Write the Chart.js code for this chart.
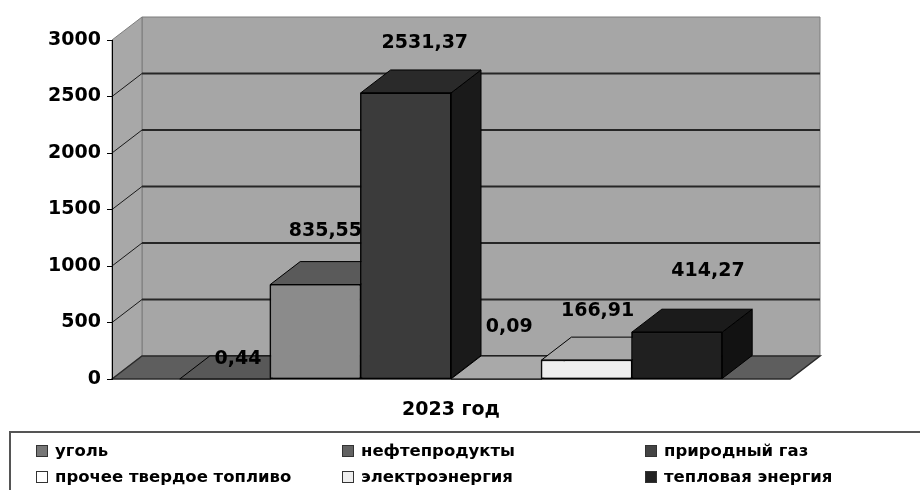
<!DOCTYPE html>
<html lang="ru">
<head>
<meta charset="utf-8">
<title>2023 год</title>
<script src="https://cdn.jsdelivr.net/npm/chart.js@4.4.0/dist/chart.umd.min.js"></script>
<style>
  html, body { margin: 0; padding: 0; background: #fff; }
</style>
</head>
<body>
<canvas id="chart" width="920" height="490"></canvas>
<script>
// данные
const categories = ['2023 год'];
const seriesNames = ['уголь', 'нефтепродукты', 'природный газ', 'прочее твердое топливо', 'электроэнергия', 'тепловая энергия'];
const seriesValues = [0.44, 835.55, 2531.37, 0.09, 166.91, 414.27];
const yTicks = [0, 500, 1000, 1500, 2000, 2500, 3000];

// оформление (серые тона как в исходнике)
const frontColors = ['#7a7a7a', '#8b8b8b', '#3b3b3b', '#ffffff', '#efefef', '#202020'];
const topColors = ['#585858', '#5a5a5a', '#2a2a2a', '#a9a9a9', '#a8a8a8', '#1b1b1b'];
const sideColors = ['#404040', '#4a4a4a', '#1a1a1a', '#bbbbbb', '#b0b0b0', '#121212'];
const legendColors = ['#777777', '#626262', '#444444', '#ffffff', '#eeeeee', '#222222'];
const labelShift = [[-2, 31], [-5, -3], [4, 1], [-2, -1], [-4, 2], [16, -10]];
const DX = 30, DY = 23; // глубина 3D
const FONT = '"DejaVu Sans", sans-serif';

const fmt = v => v.toFixed(2).replace('.', ',');

function poly(ctx, pts, fill, stroke) {
  ctx.beginPath();
  ctx.moveTo(pts[0][0], pts[0][1]);
  for (let k = 1; k < pts.length; k++) ctx.lineTo(pts[k][0], pts[k][1]);
  ctx.closePath();
  if (fill) { ctx.fillStyle = fill; ctx.fill(); }
  if (stroke) { ctx.strokeStyle = stroke; ctx.stroke(); }
}

// стены, пол и линии сетки
const walls = {
  id: 'walls',
  beforeDraw(chart) {
    const { ctx, chartArea: a, scales: { y } } = chart;
    const y0 = y.getPixelForValue(0);
    const yt = y.getPixelForValue(yTicks[yTicks.length - 1]);
    ctx.save();
    ctx.lineWidth = 1;
    // задняя стена
    poly(ctx, [[a.left + DX, yt - DY], [a.right + DX, yt - DY], [a.right + DX, y0 - DY], [a.left + DX, y0 - DY]], '#a6a6a6', '#7d7d7d');
    // боковая стена
    poly(ctx, [[a.left, yt], [a.left + DX, yt - DY], [a.left + DX, y0 - DY], [a.left, y0]], '#a8a8a8', '#7d7d7d');
    // линии сетки
    yTicks.forEach(t => {
      if (t === 0 || t === yTicks[yTicks.length - 1]) return;
      const py = y.getPixelForValue(t);
      ctx.strokeStyle = '#262626';
      ctx.lineWidth = 1.8;
      ctx.beginPath();
      ctx.moveTo(a.left + DX, py - DY);
      ctx.lineTo(a.right + DX, py - DY);
      ctx.stroke();
      ctx.lineWidth = 1;
      ctx.strokeStyle = '#1a1a1a';
      ctx.beginPath();
      ctx.moveTo(a.left, py);
      ctx.lineTo(a.left + DX, py - DY);
      ctx.stroke();
    });
    // пол
    ctx.lineWidth = 1.5;
    poly(ctx, [[a.left, y0], [a.left + DX, y0 - DY], [a.right + DX, y0 - DY], [a.right, y0]], '#5e5e5e', '#2a2a2a');
    ctx.restore();
  },
  afterDatasetsDraw(chart) {
    // объём столбцов: рисуем слева направо, лицевую грань повторно через элемент
    const ctx = chart.ctx;
    ctx.save();
    ctx.lineWidth = 1;
    ctx.lineJoin = 'round';
    chart.data.datasets.forEach((ds, i) => {
      chart.getDatasetMeta(i).data.forEach(bar => {
        const { x, y, base, width } = bar.getProps(['x', 'y', 'base', 'width'], true);
        const L = x - width / 2, R = x + width / 2;
        bar.draw(ctx, chart.chartArea);
        poly(ctx, [[R, y], [R + DX, y - DY], [R + DX, base - DY], [R, base]], sideColors[i], '#000');
        poly(ctx, [[L, y], [L + DX, y - DY], [R + DX, y - DY], [R, y]], topColors[i], '#000');
        if (base - y > 1) {
          ctx.strokeStyle = '#000';
          ctx.strokeRect(L, y, width, base - y);
        }
      });
    });
    ctx.restore();
  },
  afterDraw(chart) {
    const ctx = chart.ctx;
    ctx.save();
    // подписи значений
    ctx.font = 'bold 19px ' + FONT;
    ctx.fillStyle = '#000';
    ctx.textAlign = 'center';
    ctx.textBaseline = 'middle';
    chart.data.datasets.forEach((ds, i) => {
      chart.getDatasetMeta(i).data.forEach((bar, j) => {
        const { x, y } = bar.getProps(['x', 'y'], true);
        ctx.fillText(fmt(ds.data[j]), x + DX / 2 + labelShift[i][0], y - DY - 28 + labelShift[i][1]);
      });
    });
    // легенда
    ctx.lineWidth = 2;
    ctx.strokeStyle = '#555';
    ctx.strokeRect(10, 432, 930, 80);
    const colX = [36, 342, 645];
    const rowY = [451, 477];
    ctx.font = 'bold 16.5px ' + FONT;
    ctx.textAlign = 'left';
    ctx.lineWidth = 1;
    chart.data.datasets.forEach((ds, i) => {
      const bx = colX[i % 3], by = rowY[Math.floor(i / 3)];
      ctx.fillStyle = legendColors[i];
      ctx.fillRect(bx + 0.5, by - 5.5, 11, 11);
      ctx.strokeStyle = '#333';
      ctx.strokeRect(bx + 0.5, by - 5.5, 11, 11);
      ctx.fillStyle = '#000';
      ctx.fillText(ds.label, bx + 19, by + 1);
    });
    ctx.restore();
  }
};

new Chart(document.getElementById('chart'), {
  type: 'bar',
  data: {
    labels: categories,
    datasets: seriesNames.map((name, i) => ({
      label: name,
      data: [seriesValues[i]],
      backgroundColor: frontColors[i],
      borderColor: '#000',
      borderWidth: 1,
      borderSkipped: false,
      categoryPercentage: 0.8,
      barPercentage: 1.0
    }))
  },
  options: {
    responsive: false,
    animation: false,
    events: [],
    layout: { padding: { top: 40, right: 130, left: 0, bottom: 0 } },
    plugins: { legend: { display: false }, tooltip: { enabled: false } },
    scales: {
      x: {
        grid: { display: false, drawTicks: false },
        border: { display: false },
        ticks: { color: '#000', padding: 20, font: { family: FONT, size: 19, weight: 'bold' } },
        afterFit: s => { s.height = 111; }
      },
      y: {
        min: 0,
        max: 3000,
        grid: { drawOnChartArea: false, drawTicks: true, tickLength: 5, color: '#000' },
        border: { display: true, color: '#000', width: 1 },
        ticks: {
          stepSize: 500,
          color: '#000',
          padding: 6,
          font: { family: FONT, size: 19, weight: 'bold' },
          callback: v => String(v)
        },
        afterFit: s => { s.width = 112; }
      }
    }
  },
  plugins: [walls]
});
</script>
</body>
</html>
